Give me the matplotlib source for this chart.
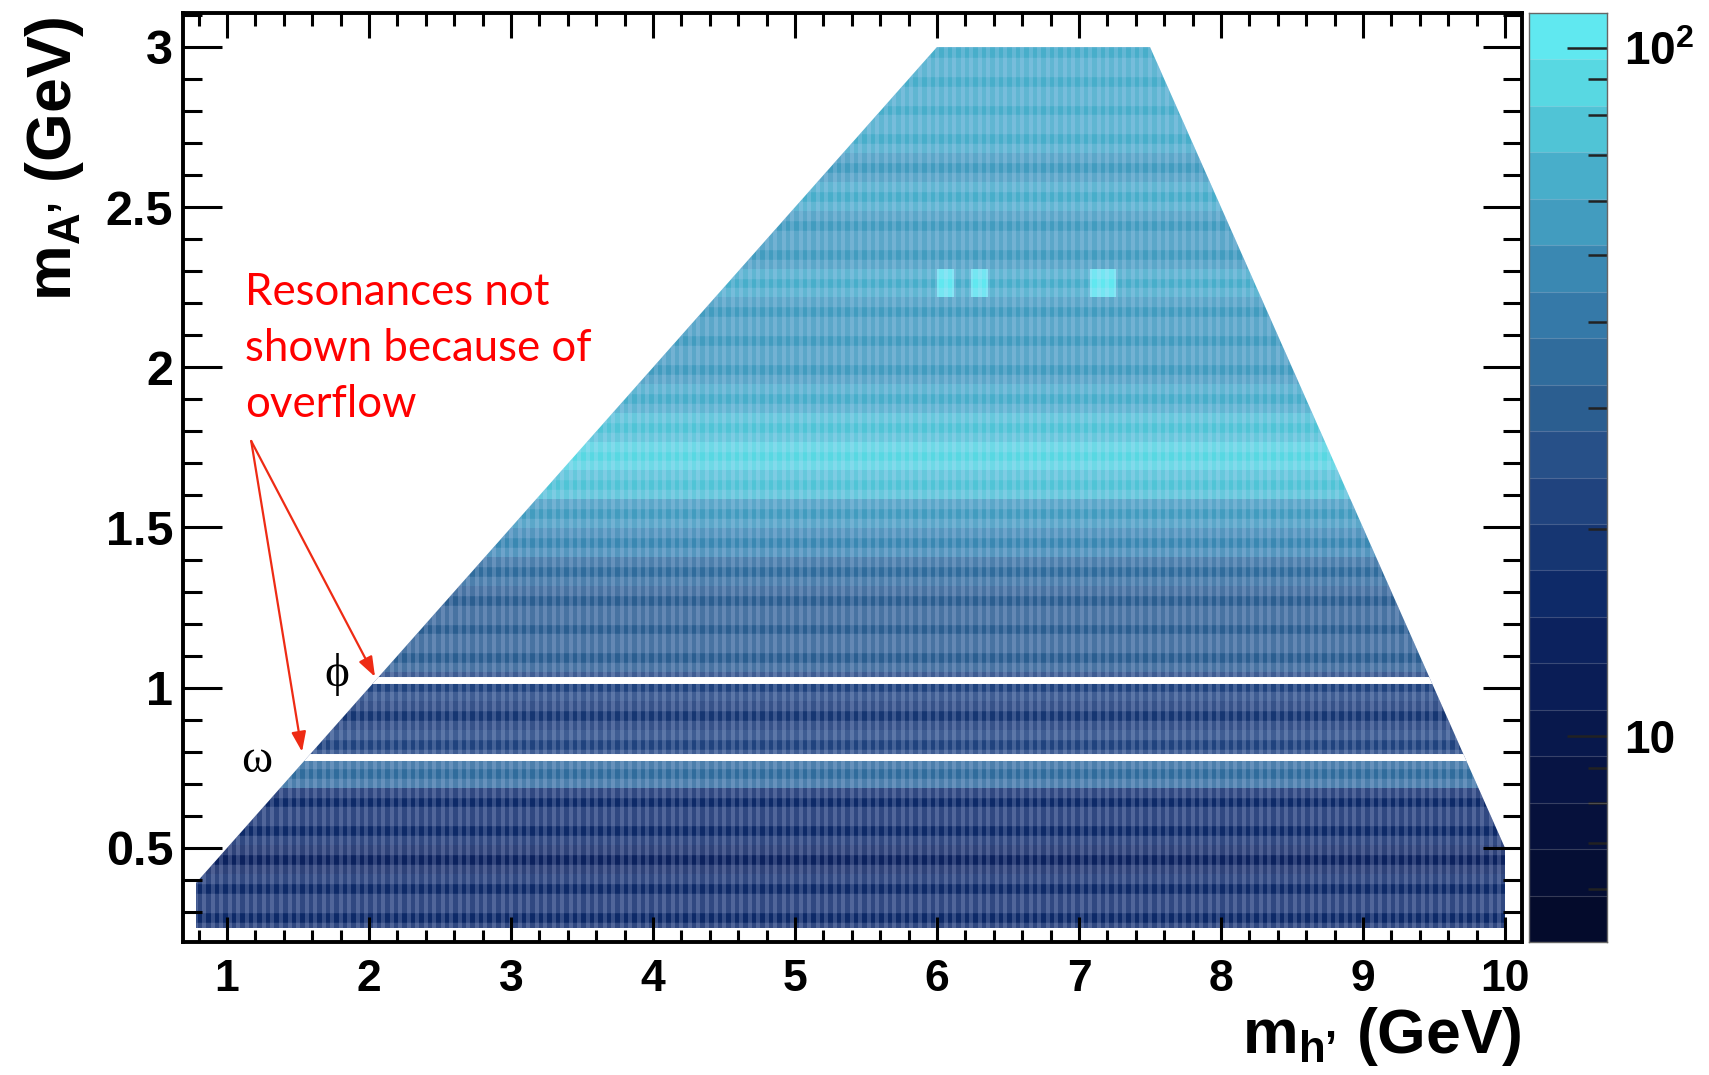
import numpy as np
import matplotlib
matplotlib.use('Agg')
import matplotlib.pyplot as plt
import matplotlib.ticker as mticker
from matplotlib.colors import ListedColormap, BoundaryNorm
from matplotlib.patches import Polygon

plt.rcParams.update({
    'font.family': 'Liberation Sans',
    'font.weight': 'bold',
    'mathtext.fontset': 'custom',
    'mathtext.rm': 'Liberation Sans:bold',
    'mathtext.it': 'Liberation Sans:bold',
    'mathtext.bf': 'Liberation Sans:bold',
    'mathtext.sf': 'Liberation Sans:bold',
})

# --- binning of the 2D histogram (m_h' along x, m_A' along y)
MH_LO, MH_HI, MH_STEP = 0.78, 10.02, 0.06
MA_LO, MA_STEP, N_ROWS = 0.238, 0.09, 31

# --- kinematic region that is filled
REGION_MH_MIN, REGION_MH_MAX = 0.78, 10.0
REGION_MA_MIN, REGION_MA_MAX = 0.25, 3.0
MH_OVER_MA = 2.0      # left edge : m_h' = 2 m_A'
MASS_SUM_MAX = 10.5   # right edge: m_h' + m_A' = 10.5

# content of each m_A' row (bottom -> top)
ROW_VALUES = [15, 15, 14, 15, 17, 35, 22, 19, 22, 29,
              29, 31, 34, 45, 60, 75, 85, 72, 62, 58,
              55, 58, 62, 60, 60, 62, 60, 62, 62, 62, 62]

# isolated hot cells: (m_h' from, m_h' to, m_A', content)
HOT_CELLS = [(6.00, 6.12, 2.26, 110),
             (6.24, 6.36, 2.26, 110),
             (7.08, 7.26, 2.26, 110)]

# resonances removed (overflow)
RESONANCE_MASS = [0.785, 1.023]
RESONANCE_NAME = ['ω', 'ϕ']

# --- colour scale (20 log levels, ROOT style)
Z_MIN, Z_MAX, N_LEVELS = 5.02, 112.4, 20
LEVEL_COLORS = ['#040b2c', '#050e34', '#06113c', '#071444', '#08184c',
                '#0a1d56', '#0c225e', '#0e2a68', '#163672', '#20437e',
                '#275088', '#2b5e90', '#306c9c', '#3579a8', '#3a88b2',
                '#429cbf', '#48aeca', '#50c4d6', '#58d8e2', '#60e8f0']

LEVELS = np.logspace(np.log10(Z_MIN), np.log10(Z_MAX), N_LEVELS + 1)
cmap = ListedColormap(LEVEL_COLORS)
norm = BoundaryNorm(LEVELS, N_LEVELS)

x_edges = np.arange(MH_LO, MH_HI + 1e-6, MH_STEP)
y_edges = MA_LO + MA_STEP * np.arange(N_ROWS + 1)
xc = 0.5 * (x_edges[1:] + x_edges[:-1])
yc = 0.5 * (y_edges[1:] + y_edges[:-1])

Z = np.tile(np.array(ROW_VALUES, dtype=float)[:, None], (1, len(xc)))
for x0, x1, yv, v in HOT_CELLS:
    rows = np.abs(yc - yv) < MA_STEP / 2
    cols = (xc > x0) & (xc < x1)
    Z[np.ix_(rows, cols)] = v

fig = plt.figure(figsize=(17.09, 10.75), dpi=100)
ax = fig.add_axes([0.1071, 0.1237, 0.7835, 0.8642])

verts = [(REGION_MH_MIN, REGION_MA_MIN),
         (REGION_MH_MIN, REGION_MH_MIN / MH_OVER_MA),
         (MH_OVER_MA * REGION_MA_MAX, REGION_MA_MAX),
         (MASS_SUM_MAX - REGION_MA_MAX, REGION_MA_MAX),
         (REGION_MH_MAX, MASS_SUM_MAX - REGION_MH_MAX),
         (REGION_MH_MAX, REGION_MA_MIN)]
region = Polygon(verts, closed=True, transform=ax.transData)

mesh = ax.pcolormesh(x_edges, y_edges, Z, cmap=cmap, norm=norm,
                     shading='flat', zorder=1)
mesh.set_clip_path(region)

# cell texture (light borders like the rendered ROOT COLZ)
vl = ax.vlines(x_edges, REGION_MA_MIN, REGION_MA_MAX, colors='#d8e0ff',
               alpha=0.2, linewidth=2.9, zorder=1.5)
hl = ax.hlines(y_edges, REGION_MH_MIN, REGION_MH_MAX, colors='#d8e0ff',
               alpha=0.17, linewidth=14, zorder=1.5)
gaps = ax.hlines(RESONANCE_MASS, REGION_MH_MIN, REGION_MH_MAX,
                 colors='white', linewidth=5, zorder=1.8)
for art in (vl, hl, gaps):
    art.set_clip_path(region)

ax.set_xlim(0.69, 10.12)
ax.set_ylim(0.206, 3.106)
ax.xaxis.set_major_locator(mticker.MultipleLocator(1))
ax.xaxis.set_minor_locator(mticker.MultipleLocator(0.2))
ax.yaxis.set_major_locator(mticker.MultipleLocator(0.5))
ax.yaxis.set_minor_locator(mticker.MultipleLocator(0.1))
fmt = mticker.FuncFormatter(lambda v, _: f"{v:g}")
ax.xaxis.set_major_formatter(fmt)
ax.yaxis.set_major_formatter(fmt)
ax.tick_params(which='both', direction='in', top=True, right=True,
               width=2.2, color='black')
ax.tick_params(axis='y', which='major', length=28, labelsize=35, pad=7)
ax.tick_params(axis='y', which='minor', length=14)
ax.tick_params(axis='x', which='major', length=18, labelsize=32, pad=12)
ax.tick_params(axis='x', which='minor', length=9)
for s in ax.spines.values():
    s.set_linewidth(2.8)

# resonance labels and arrows
arrow_start = (1.17, 1.77)
for m, name, tip, pos in zip(RESONANCE_MASS, RESONANCE_NAME,
                             [(1.528, 0.80), (2.042, 1.034)],
                             [(1.21, 0.772), (1.775, 1.04)]):
    ax.annotate('', xy=tip, xytext=arrow_start,
                arrowprops=dict(arrowstyle='-|>,head_length=0.6,head_width=0.22',
                                mutation_scale=20, color='#ee2b14', lw=1.6,
                                shrinkA=0, shrinkB=0), zorder=5)
    ax.text(pos[0], pos[1], name, family='Liberation Serif', fontweight='normal',
            fontsize=34, ha='center', va='center', zorder=6)

fig.text(245 / 1709, 1 - 272 / 1075, "Resonances not\nshown because of\noverflow",
         color='red', family='Lato', fontweight='normal', fontsize=31.5,
         va='top', ha='left', linespacing=1.45)

# axis titles
fig.text(0.0503, 0.985, r"m$_{\mathrm{A’}}$ (GeV)", rotation=90,
         ha='right', va='top', fontsize=45)
fig.text(1522 / 1709, 0.0205, r"m$_{\mathrm{h’}}$ (GeV)",
         ha='right', va='baseline', fontsize=45)

# colour bar
cax = fig.add_axes([0.8947, 0.1237, 0.0456, 0.8642])
mids = np.sqrt(LEVELS[1:] * LEVELS[:-1])
cax.pcolormesh([0, 1], LEVELS, mids[:, None], cmap=cmap, norm=norm)
cax.hlines(LEVELS[1:-1], 0, 1, colors='white', alpha=0.2, linewidth=0.8)
cax.set_yscale('log')
cax.set_ylim(Z_MIN, Z_MAX)
cax.set_xlim(0, 1)
cax.set_xticks([])
cax.yaxis.tick_right()
cax.yaxis.set_major_locator(mticker.FixedLocator([10, 100]))
cax.yaxis.set_major_formatter(mticker.FixedFormatter(['10', r'$\mathregular{10^{2}}$']))
cax.yaxis.set_minor_locator(mticker.LogLocator(subs=np.arange(2, 10)))
cax.yaxis.set_minor_formatter(mticker.NullFormatter())
cax.tick_params(which='both', direction='in', color='#222222', width=1.8)
cax.tick_params(which='major', length=29, labelsize=33, pad=12)
cax.tick_params(which='minor', length=14)
for s in cax.spines.values():
    s.set_linewidth(1.0)
    s.set_color('#666666')

fig.savefig('out.png', dpi=100)
